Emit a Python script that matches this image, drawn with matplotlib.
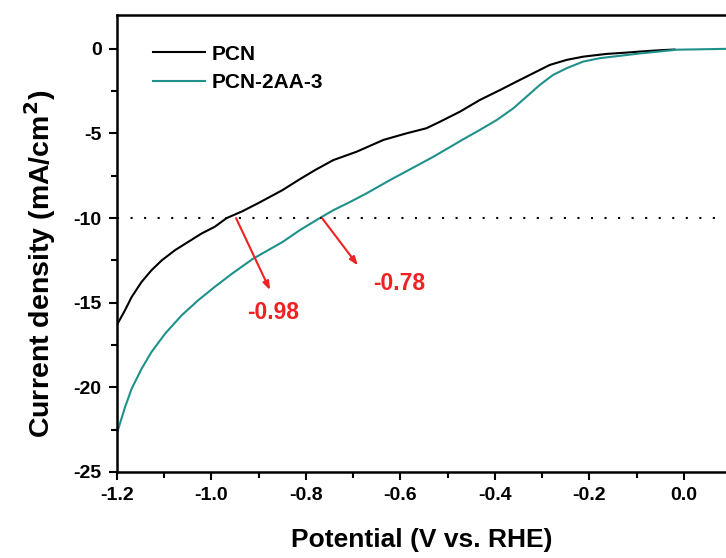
import matplotlib
matplotlib.use('Agg')
import matplotlib.pyplot as plt
from matplotlib.ticker import MultipleLocator
import numpy as np

plt.rcParams['font.family'] = ['Liberation Sans', 'DejaVu Sans']
plt.rcParams['font.weight'] = 'bold'
plt.rcParams['mathtext.default'] = 'bf'
plt.rcParams['axes.unicode_minus'] = False

# PCN curve
pcn_x = [-1.2, -1.183, -1.169, -1.148, -1.127, -1.105, -1.077, -1.049, -1.021,
         -0.993, -0.968, -0.935, -0.9, -0.85, -0.813, -0.78, -0.742, -0.693,
         -0.636, -0.587, -0.545, -0.516, -0.474, -0.432, -0.389, -0.354, -0.319,
         -0.284, -0.248, -0.213, -0.164, -0.121, -0.093, -0.05, -0.02]
pcn_y = [-16.3, -15.44, -14.66, -13.77, -13.08, -12.49, -11.89, -11.40, -10.91,
         -10.51, -10.0, -9.6, -9.1, -8.35, -7.7, -7.15, -6.57, -6.08,
         -5.38, -4.99, -4.69, -4.30, -3.71, -3.02, -2.43, -1.93, -1.44,
         -0.95, -0.65, -0.46, -0.30, -0.22, -0.16, -0.08, -0.04]

# PCN-2AA-3 curve
aa_x = [-1.2, -1.183, -1.169, -1.148, -1.127, -1.098, -1.063, -1.028, -0.993,
        -0.955, -0.912, -0.849, -0.813, -0.777, -0.742, -0.707, -0.672, -0.622,
        -0.53, -0.467, -0.432, -0.396, -0.361, -0.333, -0.305, -0.277, -0.248,
        -0.213, -0.178, -0.135, -0.093, -0.05, -0.015, 0.089]
aa_y = [-22.7, -21.17, -20.08, -18.90, -17.91, -16.82, -15.74, -14.85, -14.06,
        -13.25, -12.4, -11.4, -10.71, -10.1, -9.53, -9.05, -8.54, -7.75,
        -6.37, -5.34, -4.79, -4.20, -3.51, -2.82, -2.13, -1.54, -1.14,
        -0.75, -0.55, -0.41, -0.27, -0.15, -0.05, 0.0]

labels = ['PCN', 'PCN-2AA-3']
colors = ['black', '#1f918b']

ref_j = -10
onset = [-0.98, -0.78]          # potentials written on the chart
cross_x = [-0.948, -0.766]      # where the arrows start
arrow_tip = [(-0.876, -14.26), (-0.69, -12.8)]
text_pos = [(-0.87, -15.6), (-0.603, -13.85)]

fig = plt.figure(figsize=(7.26, 5.58), dpi=100)
ax = fig.add_axes([117 / 726, 86 / 558, 609 / 726, 457 / 558])

ax.plot(pcn_x, pcn_y, color=colors[0], lw=1.5, label=labels[0])
ax.plot(aa_x, aa_y, color=colors[1], lw=1.5, label=labels[1])

ax.axhline(ref_j, color='black', lw=1.5, linestyle=(0, (1, 5.5)))

for v, cx, tip, tp in zip(onset, cross_x, arrow_tip, text_pos):
    ax.annotate('', xy=tip, xytext=(cx, ref_j),
                arrowprops=dict(arrowstyle='-|>,head_length=0.5,head_width=0.18',
                                color='#ee2222', lw=1.5, shrinkA=0, shrinkB=0))
    ax.text(tp[0], tp[1], '%.2f' % v, color='#ee2222', fontsize=16.5,
            fontweight='bold', ha='center', va='center')

ax.set_xlim(-1.2, 0.089)
ax.set_ylim(-25, 2)
ax.xaxis.set_minor_locator(MultipleLocator(0.1))
ax.yaxis.set_major_locator(MultipleLocator(5))
ax.yaxis.set_minor_locator(MultipleLocator(2.5))
xt = np.arange(-1.2, 0.01, 0.2)
ax.set_xticks(xt)
ax.set_xticklabels(['%.1f' % t if abs(t) > 1e-9 else '0.0' for t in xt])

ax.tick_params(which='major', direction='out', length=6, width=1.5, labelsize=14, pad=5)
ax.tick_params(which='minor', direction='out', length=4, width=1.5)
for s in ['left', 'bottom', 'top']:
    ax.spines[s].set_linewidth(1.8)
ax.spines['right'].set_visible(False)

ax.set_xlabel('Potential (V vs. RHE)', fontsize=19, fontweight='bold', labelpad=17)
ax.set_ylabel(r'Current density (mA/cm$^2$)', fontsize=20.5, fontweight='bold')
ax.yaxis.set_label_coords(-0.097, 0.455)

ax.legend(loc='upper left', bbox_to_anchor=(0.059, 0.935), frameon=False,
          fontsize=15, handlelength=2.5, handletextpad=0.34, labelspacing=0.45,
          borderpad=0, borderaxespad=0)

fig.savefig('out.png', dpi=100)
